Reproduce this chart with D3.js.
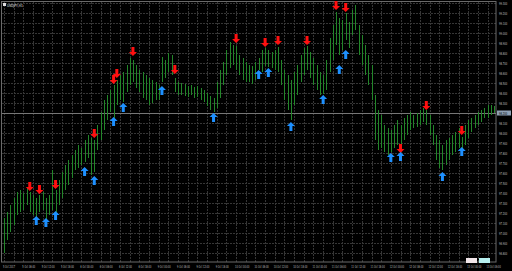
<!DOCTYPE html>
<html>
<head>
<meta charset="utf-8">
<script src="https://cdn.jsdelivr.net/npm/d3@7"></script>
<style>
  html, body { margin: 0; padding: 0; background: #000; }
  svg { display: block; }
  text { font-family: "DejaVu Sans", sans-serif; }
</style>
</head>
<body>
<svg id="chart" width="512" height="271"></svg>
<script>
// bar highs / lows (H1 bars)
const highs = [
  97.15, 97.21, 97.28, 97.35, 97.41, 97.43, 97.40, 97.45, 97.41, 97.38,
  97.35, 97.38, 97.41, 97.35, 97.38, 97.63, 97.43, 97.53, 97.61, 97.68,
  97.73, 97.78, 97.83, 97.88, 97.85, 97.93, 97.98, 97.95, 97.93, 98.08,
  98.21, 98.33, 98.38, 98.43, 98.48, 98.53, 98.58, 98.61, 98.68, 98.75,
  98.73, 98.68, 98.63, 98.61, 98.58, 98.55, 98.53, 98.51, 98.48, 98.76,
  98.73, 98.80, 98.78, 98.55, 98.51, 98.50, 98.49, 98.47, 98.48, 98.46,
  98.47, 98.45, 98.43, 98.40, 98.37, 98.35, 98.51, 98.63, 98.71, 98.83,
  98.91, 98.88, 98.87, 98.78, 98.75, 98.71, 98.68, 98.67, 98.71, 98.75,
  98.83, 98.85, 98.83, 98.81, 98.83, 98.86, 98.73, 98.63, 98.58, 98.53,
  98.61, 98.68, 98.78, 98.85, 98.87, 98.81, 98.75, 98.68, 98.61, 98.58,
  98.73, 98.95, 99.08, 99.21, 99.15, 99.13, 99.20, 99.11, 99.23, 99.28,
  99.08, 98.98, 98.88, 98.78, 98.68, 98.38, 98.23, 98.18, 98.08, 98.05,
  98.03, 98.08, 98.13, 98.08, 98.15, 98.18, 98.21, 98.18, 98.20, 98.23,
  98.25, 98.23, 98.18, 98.08, 97.98, 97.93, 97.88, 97.93, 97.95, 97.98,
  98.01, 98.05, 97.96, 98.08, 98.13, 98.15, 98.18, 98.21, 98.23, 98.25,
  98.28, 98.28, 98.27
];
const lows = [
  96.80, 96.93, 97.01, 97.08, 97.18, 97.21, 97.23, 97.28, 97.21, 97.18,
  97.15, 97.21, 97.23, 97.11, 97.18, 97.23, 97.21, 97.28, 97.35, 97.43,
  97.48, 97.55, 97.63, 97.65, 97.68, 97.71, 97.75, 97.58, 97.61, 97.83,
  97.93, 98.03, 98.13, 98.21, 98.15, 98.28, 98.33, 98.31, 98.41, 98.48,
  98.51, 98.45, 98.41, 98.35, 98.33, 98.28, 98.30, 98.33, 98.33, 98.51,
  98.55, 98.61, 98.58, 98.41, 98.38, 98.38, 98.37, 98.36, 98.38, 98.35,
  98.36, 98.33, 98.31, 98.27, 98.23, 98.21, 98.25, 98.35, 98.48, 98.58,
  98.65, 98.68, 98.63, 98.58, 98.53, 98.51, 98.51, 98.49, 98.53, 98.63,
  98.61, 98.67, 98.66, 98.65, 98.63, 98.61, 98.48, 98.33, 98.23, 98.13,
  98.28, 98.38, 98.51, 98.58, 98.63, 98.55, 98.48, 98.43, 98.38, 98.39,
  98.43, 98.61, 98.73, 98.88, 98.78, 98.83, 98.93, 98.85, 98.98, 99.03,
  98.78, 98.68, 98.58, 98.48, 98.33, 97.93, 97.83, 97.85, 97.81, 97.78,
  97.81, 97.85, 97.88, 97.83, 97.93, 97.98, 98.03, 98.05, 98.06, 98.08,
  98.11, 98.08, 97.98, 97.88, 97.73, 97.65, 97.63, 97.68, 97.73, 97.78,
  97.81, 97.85, 97.85, 97.88, 97.95, 98.01, 98.05, 98.08, 98.11, 98.15,
  98.15, 98.18, 98.20
];

// signal arrows: bar index + price level
const sellIdx = [8, 11, 16, 28, 34, 35, 40, 53, 72, 81, 85, 94, 103, 106, 123, 131, 142];
const sellPrice = [97.47, 97.44, 97.49, 98.00, 98.54, 98.60, 98.82, 98.64, 98.95, 98.91, 98.93, 98.93, 99.28, 99.26, 97.85, 98.28, 98.03];
const buyIdx = [10, 13, 16, 25, 28, 34, 37, 49, 65, 79, 82, 89, 99, 104, 106, 120, 123, 136, 142];
const buyPrice = [97.12, 97.10, 97.17, 97.61, 97.52, 98.11, 98.25, 98.42, 98.15, 98.58, 98.60, 98.06, 98.33, 98.63, 98.78, 97.75, 97.76, 97.56, 97.81];

const lastPrice = 98.20;

const priceTicks = [99.3, 99.2, 99.1, 99.0, 98.9, 98.8, 98.7, 98.6, 98.5, 98.4, 98.3, 98.2, 98.1,
  98.0, 97.9, 97.8, 97.7, 97.6, 97.5, 97.4, 97.3, 97.2, 97.1, 97.0, 96.9, 96.8];
const timeLabels = [
  '5 Oct 2017', '5 Oct 06:00', '5 Oct 12:00', '5 Oct 18:00', '6 Oct 00:00', '6 Oct 06:00',
  '6 Oct 12:00', '6 Oct 18:00', '9 Oct 00:00', '9 Oct 06:00', '9 Oct 12:00', '9 Oct 18:00',
  '10 Oct 00:00', '10 Oct 06:00', '10 Oct 12:00', '10 Oct 18:00', '11 Oct 00:00', '11 Oct 06:00',
  '11 Oct 12:00', '11 Oct 18:00', '12 Oct 00:00', '12 Oct 06:00', '12 Oct 12:00', '12 Oct 18:00',
  '13 Oct 00:00', '13 Oct 06:00'
];
const barsPerLabel = 6;

const svg = d3.select('#chart');
const W = 512, H = 271;
const plotRight = 496, plotBottom = 262;

svg.append('rect').attr('width', W).attr('height', H).attr('fill', '#000');

const x = d3.scaleLinear().domain([0, highs.length - 1]).range([4, 494]);
const y = d3.scaleLinear().domain([96.8, 99.3]).range([253, 3]);

// grid
const grid = svg.append('g').attr('stroke', '#363636').attr('stroke-dasharray', '2,1');
priceTicks.forEach(p => {
  grid.append('line')
    .attr('x1', 2).attr('x2', plotRight)
    .attr('y1', Math.round(y(p)) + 0.5).attr('y2', Math.round(y(p)) + 0.5);
});
for (let i = 0; i < highs.length; i += barsPerLabel / 2) {
  grid.append('line')
    .attr('x1', Math.round(x(i)) + 0.5).attr('x2', Math.round(x(i)) + 0.5)
    .attr('y1', 2).attr('y2', plotBottom);
}

// frame
svg.append('rect')
  .attr('x', 1.5).attr('y', 1.5)
  .attr('width', plotRight - 1.5).attr('height', plotBottom - 1.5)
  .attr('fill', 'none').attr('stroke', '#6a6a6a');

// current price line
svg.append('line')
  .attr('x1', 2).attr('x2', plotRight)
  .attr('y1', Math.round(y(lastPrice)) + 0.5).attr('y2', Math.round(y(lastPrice)) + 0.5)
  .attr('stroke', '#777');

// bars
svg.append('g').selectAll('line')
  .data(highs)
  .join('line')
  .attr('x1', (d, i) => Math.round(x(i)) + 0.5)
  .attr('x2', (d, i) => Math.round(x(i)) + 0.5)
  .attr('y1', d => y(d))
  .attr('y2', (d, i) => y(lows[i]))
  .attr('stroke', '#23862a')
  .attr('stroke-width', 1);

// arrows
const upArrow = 'M0,-5 L4,-1 L1.5,-1 L1.5,4 L-1.5,4 L-1.5,-1 L-4,-1 Z';
const downArrow = 'M0,5 L4,1 L1.5,1 L1.5,-4 L-1.5,-4 L-1.5,1 L-4,1 Z';

svg.append('g').selectAll('path')
  .data(sellIdx)
  .join('path')
  .attr('d', downArrow)
  .attr('transform', (d, i) => `translate(${x(d)},${y(sellPrice[i])})`)
  .attr('fill', '#ff1010');

svg.append('g').selectAll('path')
  .data(buyIdx)
  .join('path')
  .attr('d', upArrow)
  .attr('transform', (d, i) => `translate(${x(d)},${y(buyPrice[i])})`)
  .attr('fill', '#1e90ff');

// price axis (squeezed so the 3-decimal labels fit the narrow strip)
svg.append('g').selectAll('text')
  .data(priceTicks)
  .join('text')
  .attr('transform', d => `translate(499,${y(d) + 1.5}) scale(0.6,1)`)
  .attr('font-size', 4)
  .attr('fill', '#bdbdbd')
  .text(d => d.toFixed(3));

// last price tag
svg.append('rect')
  .attr('x', 497).attr('y', y(lastPrice) - 2.5)
  .attr('width', 14).attr('height', 5)
  .attr('fill', '#8fa0b5');
svg.append('text')
  .attr('transform', `translate(499,${y(lastPrice) + 1.5}) scale(0.6,1)`)
  .attr('font-size', 4)
  .attr('fill', '#000')
  .text(lastPrice.toFixed(3));

// time axis
svg.append('g').selectAll('text')
  .data(timeLabels)
  .join('text')
  .attr('transform', (d, i) => `translate(${x(i * barsPerLabel) - 1},268) scale(0.55,1)`)
  .attr('font-size', 4)
  .attr('fill', '#bdbdbd')
  .text(d => d);

// title
svg.append('rect').attr('x', 3).attr('y', 3).attr('width', 3).attr('height', 3).attr('fill', '#ddd');
svg.append('text')
  .attr('transform', 'translate(7,6.5) scale(0.75,1)')
  .attr('font-size', 4)
  .attr('fill', '#e0e0e0')
  .text('USDJPY,H1');

// small tags, bottom right
svg.append('rect').attr('x', 466).attr('y', 258).attr('width', 11).attr('height', 5).attr('fill', '#f2e6ea');
svg.append('rect').attr('x', 479).attr('y', 258).attr('width', 11).attr('height', 5).attr('fill', '#b8f0f0');
</script>
</body>
</html>
